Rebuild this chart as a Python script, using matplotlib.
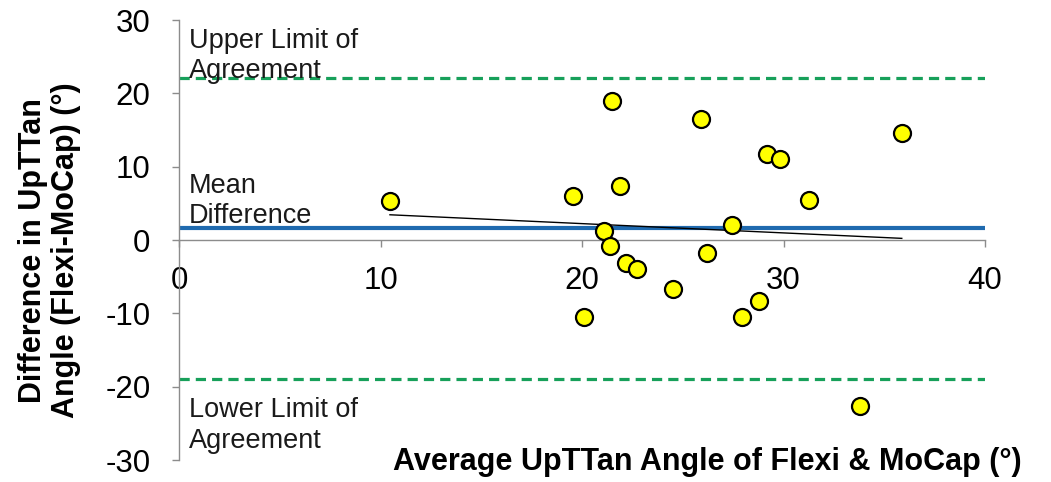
import numpy as np
import matplotlib
matplotlib.use("Agg")
import matplotlib.pyplot as plt

plt.rcParams['font.family'] = ['Liberation Sans', 'DejaVu Sans']
plt.rcParams['axes.unicode_minus'] = False

# Average of the two methods (x) and their difference (y), in degrees
avg_angle = [10.47, 19.57, 21.47, 21.10, 21.40, 25.89, 35.87, 29.18, 29.83, 21.87,
             31.28, 27.46, 22.16, 22.75, 26.20, 24.53, 28.78, 27.96, 20.12, 33.80]
diff_angle = [5.3, 6.0, 19.0, 1.2, -0.75, 16.55, 14.6, 11.7, 11.1, 7.3,
              5.4, 2.0, -3.2, -4.0, -1.8, -6.7, -8.3, -10.5, -10.5, -22.6]

mean_diff = 1.6
upper_loa = 22.1
lower_loa = -19.0

x = np.array(avg_angle)
y = np.array(diff_angle)

W, H = 1051, 482
fig = plt.figure(figsize=(W / 100, H / 100), dpi=100)
ax = fig.add_axes([179 / W, 1 - 460 / H, 806 / W, 440 / H])

ax.set_xlim(0, 40)
ax.set_ylim(-30, 30)

# limits of agreement and mean difference
ax.axhline(upper_loa, color='#17A05A', lw=2.3, dashes=(3.2, 1.9), zorder=2)
ax.axhline(lower_loa, color='#17A05A', lw=2.3, dashes=(3.2, 1.9), zorder=2)
ax.axhline(mean_diff, color='#1F6AAF', lw=3.0, zorder=2)

# linear trend of difference vs average
slope, intercept = np.polyfit(x, y, 1)
tx = np.array([x.min(), x.max()])
ax.plot(tx, slope * tx + intercept, color='black', lw=1.0, zorder=3)

ax.scatter(x, y, s=150, facecolor='#FFFF00', edgecolor='black', linewidth=1.6, zorder=4)

# axes styling
for side in ('top', 'right'):
    ax.spines[side].set_visible(False)
ax.spines['bottom'].set_position(('data', 0))
for side in ('left', 'bottom'):
    ax.spines[side].set_color('#8C8C8C')
    ax.spines[side].set_linewidth(1.0)

ax.set_xticks([0, 10, 20, 30, 40])
ax.set_yticks([-30, -20, -10, 0, 10, 20, 30])
ax.tick_params(axis='x', direction='out', length=5, width=1, color='#8C8C8C',
               labelsize=22.5, pad=14)
ax.tick_params(axis='y', direction='out', length=5, width=1, color='#8C8C8C',
               labelsize=22.5, pad=15.5)

ax.set_xlabel('Average UpTTan Angle of Flexi & MoCap (°)', fontsize=22,
              fontweight='bold', ha='right', va='center')
ax.xaxis.set_label_coords(1.046, -0.005)
ax.set_ylabel('Difference in UpTTan\nAngle (Flexi-MoCap) (°)', fontsize=22,
              fontweight='bold', va='center', ha='center', linespacing=1.15)
ax.yaxis.set_label_coords(-0.161, 0.477)

# annotations
ann = dict(fontsize=19.5, color='#1A1A1A', va='baseline', ha='left', zorder=5)
ax.text(0.5, 26.2, 'Upper Limit of', **ann)
ax.text(0.5, 22.1, 'Agreement', **ann)
ax.text(0.5, 6.4, 'Mean', **ann)
ax.text(0.5, 2.3, 'Difference', **ann)
ax.text(0.5, -24.1, 'Lower Limit of', **ann)
ax.text(0.5, -28.4, 'Agreement', **ann)

fig.savefig('out.png', dpi=100, facecolor='white')
